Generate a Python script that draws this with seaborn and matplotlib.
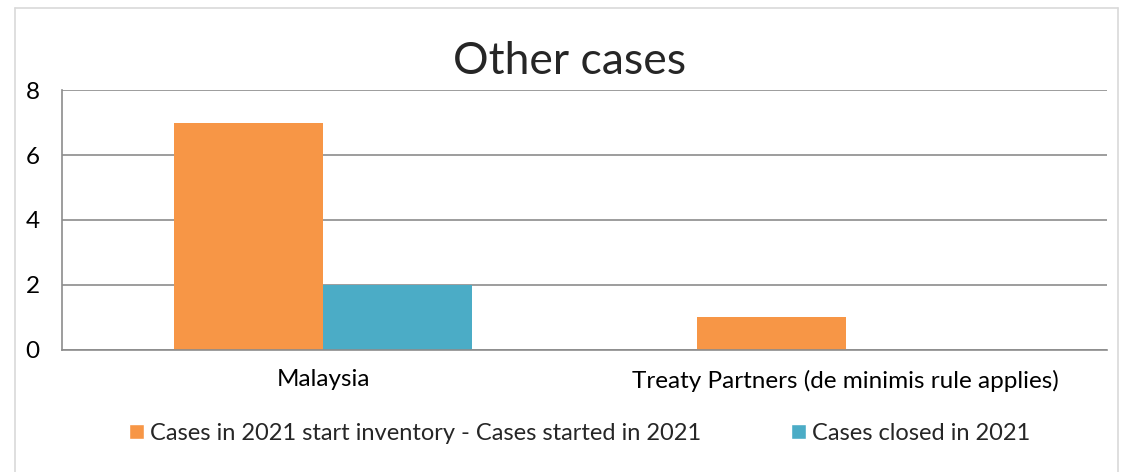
import matplotlib
matplotlib.use("Agg")
import matplotlib.pyplot as plt
import seaborn as sns
import pandas as pd
from matplotlib.lines import Line2D
from matplotlib.patches import Patch

categories = ["Malaysia", "Treaty Partners (de minimis rule applies)"]
series = ["Cases in 2021 start inventory - Cases started in 2021", "Cases closed in 2021"]
inventory = [7, 1]
closed = [2, 0]
colors = ["#F79646", "#4BACC6"]

df = pd.DataFrame({
    "category": categories * 2,
    "series": [series[0]] * 2 + [series[1]] * 2,
    "value": inventory + closed,
})

sns.set_style("white")
plt.rcParams["font.family"] = ["Lato", "DejaVu Sans"]

fig = plt.figure(figsize=(11.21, 4.72), dpi=100)
ax = fig.add_axes([0.0553, 0.2585, 0.932, 0.5508])

sns.barplot(data=df, x="category", y="value", hue="series", palette=colors,
            width=0.57, ax=ax, legend=False, saturation=1, linewidth=0)

ax.set_ylim(0, 8)
ax.set_yticks([0, 2, 4, 6, 8])
ax.yaxis.grid(True, color="#8c8c8c", linewidth=1.2)
ax.set_axisbelow(True)
for s in ["top", "right"]:
    ax.spines[s].set_visible(False)
for s in ["left", "bottom"]:
    ax.spines[s].set_color("#8c8c8c")
    ax.spines[s].set_linewidth(1.2)
ax.tick_params(axis="both", length=0, labelsize=17.5, colors="black")
ax.tick_params(axis="x", pad=14)
ax.tick_params(axis="y", pad=16)
ax.set_xlabel("")
ax.set_ylabel("")

fig.text(0.508, 0.869, "Other cases", ha="center", va="center", fontsize=32)

handles = [Patch(facecolor=c) for c in colors]
fig.legend(handles, series, loc="center", bbox_to_anchor=(0.517, 0.082), ncol=2,
           frameon=False, fontsize=17, handlelength=0.65, handleheight=0.65,
           handletextpad=0.25, columnspacing=3.8)

# chart area border
fig.add_artist(Line2D([0.0134, 0.0134], [0, 0.983], color="#d9d9d9", linewidth=1.2))
fig.add_artist(Line2D([0.0134, 0.997], [0.983, 0.983], color="#d9d9d9", linewidth=1.2))
fig.add_artist(Line2D([0.997, 0.997], [0, 0.983], color="#d9d9d9", linewidth=1.2))

fig.savefig("out.png", dpi=100)
